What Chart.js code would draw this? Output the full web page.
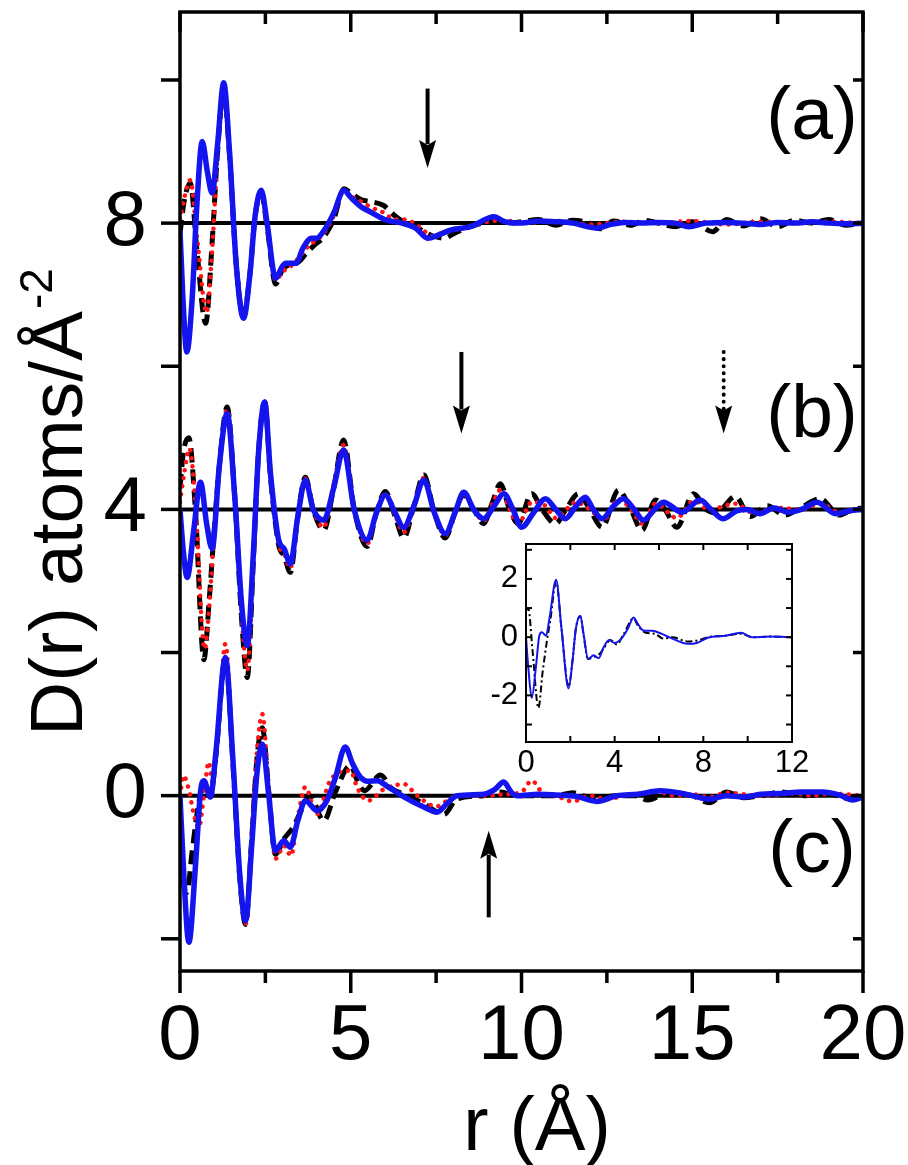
<!DOCTYPE html>
<html><head><meta charset="utf-8">
<script src="https://cdn.jsdelivr.net/npm/chart.js@4.4.1/dist/chart.umd.min.js"></script>
<style>
html,body{margin:0;padding:0;background:#fff;}
#wrap{position:relative;width:908px;height:1165px;}
#main{position:absolute;left:0;top:0;}
#inset{position:absolute;left:440px;top:520px;}
</style></head><body>
<div id="wrap"><canvas id="main" width="908" height="1165"></canvas><canvas id="inset" width="380" height="270"></canvas></div>
<script>
// ---------- DATA ----------
const xLabelVals = [0, 5, 10, 15, 20];
const xMinorVals = [2.5, 7.5, 12.5, 17.5];
const yLabelVals = [0, 4, 8];
const yTickVals = [-2, 0, 2, 4, 6, 8, 10];
const panelOffsets = [8, 4, 0];
const panelNames = ['(a)', '(b)', '(c)'];

// panel (a): values relative to offset 8
const aBlack = [[0,-0.15],[0.12,0.3],[0.3,0.56],[0.5,-0.4],[0.75,-1.4],[0.95,-0.2],[1.1,1.0],[1.28,1.85],[1.45,0.95],[1.65,-0.6],[1.86,-1.3],[2.05,-0.7],[2.2,0.1],[2.38,0.42],[2.55,-0.05],[2.8,-0.85],[3.0,-0.65],[3.2,-0.58],[3.45,-0.55],[3.7,-0.42],[3.95,-0.3],[4.2,-0.2],[4.5,0.05],[4.8,0.48],[5.0,0.42],[5.3,0.33],[5.6,0.3],[5.95,0.25],[6.3,0.1],[6.6,0.0],[7.0,-0.08],[7.4,-0.18],[7.75,-0.21],[8.0,-0.15],[8.5,-0.05],[9.0,0.02],[9.3,0.05],[9.7,0.0],[10,0.02],[10.5,0.05],[11,-0.03],[11.5,0.04],[12,0.0],[12.3,-0.08],[12.7,0.03],[13.2,-0.03],[13.6,0.04],[14,0.0],[14.5,-0.05],[15,0.02],[15.6,-0.12],[16,0.05],[16.5,-0.04],[17,0.06],[17.5,-0.05],[18,0.04],[18.5,0.0],[19,0.05],[19.5,-0.03],[20,0.0]];
const aRed = [[0,0.05],[0.15,0.4],[0.3,0.6],[0.5,-0.2],[0.78,-1.25],[0.95,-0.3],[1.1,0.95],[1.28,1.8],[1.45,0.95],[1.65,-0.55],[1.86,-1.28],[2.05,-0.68],[2.2,0.1],[2.38,0.42],[2.55,-0.02],[2.8,-0.8],[3.0,-0.68],[3.2,-0.62],[3.45,-0.5],[3.7,-0.35],[3.95,-0.25],[4.2,-0.15],[4.5,0.1],[4.8,0.45],[5.0,0.38],[5.3,0.3],[5.6,0.22],[5.95,0.15],[6.3,0.05],[6.6,0.05],[7.0,-0.05],[7.4,-0.18],[7.75,-0.12],[8.0,-0.1],[8.5,-0.04],[9.0,0.02],[9.5,0.04],[10,0.0],[11,0.03],[12,-0.02],[13,0.02],[14,0.0],[15,0.03],[16,-0.02],[17,0.02],[18,0.0],[19,0.02],[20,0.0]];
const aBlue = [[0,-0.1],[0.08,-1.0],[0.2,-1.8],[0.35,-1.1],[0.5,0.3],[0.65,1.14],[0.8,0.72],[0.94,0.42],[1.1,1.1],[1.28,1.96],[1.45,1.0],[1.65,-0.6],[1.86,-1.33],[2.05,-0.7],[2.2,0.1],[2.38,0.46],[2.55,0.0],[2.8,-0.77],[3.0,-0.6],[3.1,-0.56],[3.4,-0.56],[3.6,-0.35],[3.85,-0.21],[4.0,-0.21],[4.25,-0.08],[4.5,0.14],[4.8,0.46],[5.0,0.36],[5.3,0.23],[5.6,0.15],[6.0,0.05],[6.5,0.0],[6.9,-0.07],[7.25,-0.21],[7.55,-0.17],[7.9,-0.1],[8.5,-0.05],[9.2,0.09],[9.5,0.02],[10,0.0],[10.5,0.03],[11,0.02],[11.5,0.0],[12.2,-0.07],[12.6,-0.02],[13,0.01],[13.5,0.0],[14,0.01],[14.5,0.0],[14.9,-0.05],[15.4,0.0],[16,0.01],[16.5,0.0],[17,-0.02],[17.5,0.01],[18,0.0],[18.5,0.02],[19,0.0],[19.5,-0.01],[20,0.0]];

// panel (b): values relative to offset 4
const bBlack = [[0,0.3],[0.1,0.8],[0.26,1.0],[0.45,0.0],[0.7,-2.1],[0.85,-1.3],[1.0,-0.3],[1.15,0.6],[1.38,1.43],[1.6,0.2],[1.8,-1.5],[1.97,-2.35],[2.15,-0.7],[2.3,0.8],[2.48,1.5],[2.65,0.45],[2.89,-0.5],[3.05,-0.65],[3.23,-0.88],[3.45,-0.1],[3.67,0.45],[3.9,0.0],[4.21,-0.29],[4.5,0.3],[4.79,0.97],[5.1,0.0],[5.48,-0.52],[5.75,-0.05],[6.01,0.25],[6.3,-0.1],[6.55,-0.4],[6.85,0.05],[7.14,0.48],[7.45,-0.05],[7.77,-0.4],[8.05,-0.05],[8.3,0.2],[8.6,0.0],[8.89,-0.2],[9.15,0.1],[9.38,0.36],[9.65,0.0],[9.9,-0.2],[10.3,0.22],[10.6,0.0],[11.0,-0.2],[11.3,0.0],[11.67,0.22],[12.0,0.0],[12.36,-0.25],[12.84,0.27],[13.2,0.0],[13.53,-0.29],[13.92,0.13],[14.2,0.0],[14.55,-0.25],[15.04,0.22],[15.4,0.0],[15.7,-0.05],[16.26,0.18],[16.7,-0.1],[17.2,0.05],[17.7,-0.08],[18.2,0.03],[18.75,0.15],[19.3,-0.08],[19.7,0.0],[20,0.02]];
const bRed = [[0,0.1],[0.12,0.5],[0.28,0.85],[0.45,0.1],[0.72,-1.95],[0.88,-1.2],[1.0,-0.3],[1.15,0.6],[1.38,1.4],[1.6,0.2],[1.8,-1.45],[1.97,-2.25],[2.15,-0.7],[2.3,0.8],[2.48,1.48],[2.65,0.45],[2.89,-0.48],[3.05,-0.62],[3.23,-0.82],[3.45,-0.1],[3.67,0.43],[3.9,0.0],[4.21,-0.25],[4.5,0.35],[4.79,0.9],[5.1,0.0],[5.48,-0.48],[5.75,-0.05],[6.01,0.22],[6.3,-0.08],[6.55,-0.32],[6.85,0.05],[7.14,0.44],[7.45,-0.05],[7.77,-0.36],[8.05,-0.05],[8.3,0.22],[8.6,0.0],[8.89,-0.16],[9.15,0.08],[9.4,0.28],[9.65,0.0],[9.9,-0.2],[10.3,0.1],[10.7,0.05],[11.0,-0.12],[11.6,0.1],[12.0,0.0],[12.4,-0.15],[12.85,0.15],[13.2,0.0],[13.55,-0.2],[13.92,0.08],[14.55,-0.12],[15.04,0.12],[15.5,0.0],[16.26,0.08],[16.8,-0.05],[17.5,0.02],[18.2,0.0],[18.75,0.08],[19.3,-0.04],[20,0.0]];
const bBlue = [[0,0.0],[0.1,-0.6],[0.21,-0.95],[0.4,-0.3],[0.6,0.38],[0.78,-0.2],[0.94,-0.55],[1.15,0.6],[1.38,1.34],[1.6,0.2],[1.8,-1.3],[1.97,-1.9],[2.15,-0.6],[2.3,0.8],[2.48,1.5],[2.65,0.5],[2.89,-0.43],[3.05,-0.55],[3.23,-0.76],[3.45,-0.1],[3.67,0.41],[3.9,0.0],[4.21,-0.15],[4.5,0.3],[4.79,0.83],[5.1,0.0],[5.48,-0.43],[5.75,-0.05],[6.01,0.2],[6.3,-0.05],[6.55,-0.25],[6.85,0.05],[7.14,0.41],[7.45,-0.05],[7.77,-0.34],[8.05,-0.05],[8.31,0.24],[8.6,0.0],[8.89,-0.13],[9.2,0.05],[9.48,0.22],[9.75,0.0],[10.0,-0.25],[10.35,-0.05],[10.7,0.15],[11.0,0.0],[11.28,-0.13],[11.6,0.05],[11.87,0.17],[12.1,0.0],[12.36,-0.13],[12.7,0.05],[12.99,0.15],[13.3,0.0],[13.57,-0.15],[13.9,0.0],[14.16,0.1],[14.7,-0.04],[15.23,0.13],[15.55,0.0],[15.9,-0.13],[16.3,-0.02],[16.6,0.0],[16.97,-0.06],[17.4,0.02],[17.8,-0.04],[18.2,0.0],[18.65,0.1],[19.2,-0.06],[19.6,-0.02],[20,0.0]];

// panel (c): values relative to offset 0
const cBlack = [[0,-0.3],[0.06,-1.0],[0.21,-1.35],[0.35,-0.8],[0.55,-0.1],[0.7,0.15],[0.89,0.0],[1.05,0.55],[1.33,1.9],[1.55,0.45],[1.75,-1.15],[1.92,-1.8],[2.1,-0.6],[2.25,0.5],[2.41,0.95],[2.6,0.05],[2.79,-0.82],[3.05,-0.6],[3.3,-0.45],[3.5,-0.26],[3.8,0.0],[4.21,-0.35],[4.55,0.05],[4.99,0.42],[5.2,0.2],[5.4,0.07],[5.87,0.29],[6.2,0.1],[6.57,0.02],[7.1,-0.1],[7.73,-0.26],[8.1,-0.05],[8.9,0.0],[9.4,0.05],[9.8,0.0],[10.5,0.0],[11,0.0],[11.5,0.04],[12.2,-0.06],[12.7,0.0],[13.3,0.0],[13.7,-0.06],[14.3,0.04],[15,0.0],[15.5,-0.1],[16.0,0.05],[16.5,-0.03],[17,0.0],[17.6,0.05],[18.2,0.0],[19,0.02],[19.7,-0.05],[20,0.0]];
const cRed = [[0,0.0],[0.1,0.28],[0.25,0.1],[0.4,-0.25],[0.55,-0.45],[0.7,0.0],[0.84,0.47],[0.95,0.2],[1.1,0.8],[1.33,2.12],[1.55,0.5],[1.75,-1.1],[1.92,-1.8],[2.1,-0.5],[2.25,0.6],[2.41,1.14],[2.6,0.1],[2.8,-0.88],[3.05,-0.7],[3.25,-0.84],[3.45,-0.3],[3.67,0.12],[4.0,-0.26],[4.4,0.21],[4.99,0.35],[5.2,0.1],[5.5,-0.07],[6.0,0.1],[6.57,0.16],[6.9,0.02],[7.5,-0.15],[8.0,-0.02],[8.5,0.0],[9.0,0.0],[9.5,0.02],[10.0,0.05],[10.3,0.21],[10.6,0.05],[11.0,0.0],[11.5,-0.08],[12.0,0.0],[12.5,-0.05],[13.0,0.0],[13.5,0.03],[14.0,0.05],[14.5,0.0],[15.0,0.02],[15.5,-0.02],[16.0,0.04],[17.0,0.0],[18.0,0.03],[18.5,0.0],[19.0,0.03],[20,0.0]];
const cBlue = [[0,0.0],[0.1,-1.0],[0.26,-2.05],[0.45,-1.0],[0.6,0.05],[0.7,0.21],[0.89,-0.02],[1.05,0.6],[1.33,1.93],[1.55,0.5],[1.75,-1.1],[1.92,-1.75],[2.1,-0.7],[2.25,0.3],[2.41,0.72],[2.6,0.0],[2.79,-0.77],[3.04,-0.63],[3.23,-0.72],[3.45,-0.35],[3.67,-0.07],[4.02,-0.21],[4.3,-0.07],[4.55,0.25],[4.84,0.68],[5.05,0.45],[5.28,0.26],[5.5,0.2],[5.77,0.21],[6.1,0.12],[6.57,-0.02],[7.14,-0.16],[7.53,-0.23],[7.8,-0.12],[8.11,0.0],[8.9,0.02],[9.2,0.08],[9.48,0.19],[9.7,0.05],[9.86,0.0],[10.5,0.02],[11,0.01],[11.6,-0.01],[12.2,-0.08],[12.8,0.0],[13.4,0.02],[14.06,0.07],[14.6,0.04],[15.0,0.0],[15.5,-0.05],[16.0,0.0],[16.5,-0.02],[17.0,0.02],[17.6,0.03],[18.2,0.05],[18.8,0.05],[19.3,0.01],[19.7,-0.06],[20,-0.02]];

// inset
const insetXLabels = [0, 4, 8, 12];
const insetYLabels = [-2, 0, 2];
const insetBlue = [[0,0.0],[0.1,-1.0],[0.26,-2.09],[0.45,-1.0],[0.6,0.05],[0.71,0.17],[0.9,0.05],[1.05,0.6],[1.36,1.97],[1.6,0.3],[1.92,-1.76],[2.1,-0.8],[2.25,0.3],[2.45,0.74],[2.6,0.1],[2.8,-0.75],[3.05,-0.62],[3.28,-0.72],[3.5,-0.35],[3.75,-0.1],[4.0,-0.2],[4.3,-0.05],[4.6,0.3],[4.85,0.68],[5.05,0.45],[5.3,0.23],[5.7,0.22],[6.1,0.12],[6.6,-0.05],[7.3,-0.23],[7.7,-0.2],[8.2,-0.02],[9.0,0.05],[9.7,0.15],[10.2,0.0],[11,0.02],[12,0.0]];
const insetBlack = [[0,0.9],[0.1,1.0],[0.3,-0.5],[0.56,-2.43],[0.75,-1.2],[0.95,-0.1],[1.1,0.6],[1.36,1.9],[1.6,0.3],[1.92,-1.7],[2.1,-0.8],[2.25,0.3],[2.45,0.72],[2.6,0.05],[2.8,-0.75],[3.0,-0.7],[3.28,-0.6],[3.5,-0.4],[3.8,-0.1],[4.1,-0.25],[4.4,0.1],[4.85,0.65],[5.05,0.4],[5.4,0.15],[5.8,0.12],[6.2,-0.05],[6.6,0.0],[7.3,-0.15],[7.8,-0.1],[8.2,0.0],[9.0,0.05],[9.7,0.12],[10.2,0.0],[11,0.02],[12,0.0]];

// arrows (r position, tail value, tip value)
const arrows = [
  {r: 7.25, from: 9.88, to: 8.77, dotted: false},
  {r: 8.24, from: 6.2, to: 5.06, dotted: false},
  {r: 15.92, from: 6.2, to: 5.06, dotted: true},
  {r: 9.04, from: -1.70, to: -0.49, dotted: false}
];

// ---------- RENDER ----------
const FONT = "'Liberation Sans', Arial, Helvetica, sans-serif";
Chart.defaults.font.family = FONT;
Chart.defaults.color = '#000';

const BLUE = '#1414ee', RED = '#ff1414', BLACK = '#000000';
function pts(arr, off) { return arr.map(p => ({x: p[0], y: p[1] + off})); }

const panels = [[aBlack, aRed, aBlue], [bBlack, bRed, bBlue], [cBlack, cRed, cBlue]];
const datasets = [];
panels.forEach((pl, i) => {
  const off = panelOffsets[i];
  datasets.push({label: 'base' + i, data: [{x: 0, y: off}, {x: 20, y: off}], borderColor: BLACK, borderWidth: 4, order: 4});
  datasets.push({label: 'exp' + i, data: pts(pl[0], off), borderColor: BLACK, borderWidth: 5, borderDash: [14, 7], order: 3, cubicInterpolationMode: 'monotone'});
  datasets.push({label: 'model1-' + i, data: pts(pl[1], off), borderColor: RED, borderWidth: 4.5, borderDash: [0.1, 8], borderCapStyle: 'round', order: 2, cubicInterpolationMode: 'monotone'});
  datasets.push({label: 'model2-' + i, data: pts(pl[2], off), borderColor: BLUE, borderWidth: 5.5, order: 1, cubicInterpolationMode: 'monotone', borderJoinStyle: 'round'});
});

function line(ctx, x1, y1, x2, y2) { ctx.beginPath(); ctx.moveTo(x1, y1); ctx.lineTo(x2, y2); ctx.stroke(); }

function drawArrow(ctx, x, yTail, yTip, dotted) {
  const dir = yTip > yTail ? 1 : -1;
  const headL = 28, headW = 8.5;
  const yBase = yTip - dir * headL;
  ctx.save();
  ctx.strokeStyle = BLACK; ctx.fillStyle = BLACK;
  if (dotted) { ctx.lineWidth = 4; ctx.lineCap = 'round'; ctx.setLineDash([0.1, 7]); }
  else { ctx.lineWidth = 4; ctx.lineCap = 'butt'; ctx.setLineDash([]); }
  line(ctx, x, yTail, x, yBase + dir * 4);
  ctx.setLineDash([]);
  ctx.beginPath();
  ctx.moveTo(x, yTip); ctx.lineTo(x - headW, yBase); ctx.lineTo(x, yBase + dir * 5); ctx.lineTo(x + headW, yBase);
  ctx.closePath(); ctx.fill();
  ctx.restore();
}

const mainDecor = {
  id: 'mainDecor',
  beforeDraw(chart) {
    const ctx = chart.ctx; ctx.save(); ctx.fillStyle = '#fff'; ctx.fillRect(0, 0, chart.width, chart.height); ctx.restore();
  },
  afterDraw(chart) {
    const {ctx, chartArea: a, scales: {x, y}} = chart;
    ctx.save();
    ctx.strokeStyle = BLACK; ctx.lineWidth = 3.5; ctx.lineCap = 'butt';
    ctx.strokeRect(a.left, a.top, a.right - a.left, a.bottom - a.top);
    xLabelVals.forEach(v => { const p = x.getPixelForValue(v); line(ctx, p, a.bottom, p, a.bottom + 22); line(ctx, p, a.top, p, a.top + 20); });
    xMinorVals.forEach(v => { const p = x.getPixelForValue(v); line(ctx, p, a.bottom, p, a.bottom + 12); line(ctx, p, a.top, p, a.top + 12); });
    yTickVals.forEach(v => { const p = y.getPixelForValue(v); line(ctx, a.left - 19, p, a.left, p); line(ctx, a.right - 10, p, a.right, p); });
    arrows.forEach(ar => drawArrow(ctx, x.getPixelForValue(ar.r), y.getPixelForValue(ar.from), y.getPixelForValue(ar.to), ar.dotted));
    // panel labels
    ctx.fillStyle = BLACK; ctx.font = '75px ' + FONT; ctx.textAlign = 'center'; ctx.textBaseline = 'alphabetic';
    const labelBase = [139, 437, 872];
    panelNames.forEach((t, i) => ctx.fillText(t, 812, labelBase[i]));
    // x title
    ctx.font = '76px ' + FONT; ctx.textAlign = 'center';
    ctx.fillText('r (Å)', 537, 1150);
    // y title with superscript
    ctx.translate(82, 736); ctx.rotate(-Math.PI / 2);
    ctx.textAlign = 'left'; ctx.font = '75px ' + FONT;
    const main = 'D(r) atoms/Å';
    ctx.fillText(main, 0, 0);
    const w = ctx.measureText(main).width;
    ctx.font = '46px ' + FONT;
    ctx.fillText('-2', w + 2, -30);
    ctx.restore();
  }
};

new Chart(document.getElementById('main'), {
  type: 'line',
  data: {datasets},
  options: {
    responsive: false, animation: false, devicePixelRatio: 1,
    layout: {padding: {top: 12, right: 45, left: 0, bottom: 0}},
    elements: {point: {radius: 0}, line: {tension: 0}},
    plugins: {legend: {display: false}, tooltip: {enabled: false}},
    scales: {
      x: {type: 'linear', min: 0, max: 20, position: 'bottom',
        grid: {display: false, drawTicks: false}, border: {display: false},
        ticks: {font: {size: 78}, padding: 20, maxRotation: 0, autoSkip: false, color: BLACK},
        afterBuildTicks: s => { s.ticks = xLabelVals.map(v => ({value: v})); },
        afterFit: s => { s.height = 194; s.paddingLeft = 0; s.paddingRight = 0; s.paddingTop = 0; s.paddingBottom = 0; }
      },
      y: {type: 'linear', min: -2.45, max: 10.95, position: 'left',
        grid: {display: false, drawTicks: false}, border: {display: false},
        ticks: {font: {size: 78}, padding: 33, autoSkip: false, color: BLACK},
        afterBuildTicks: s => { s.ticks = yLabelVals.map(v => ({value: v})); },
        afterFit: s => { s.width = 180; s.paddingLeft = 0; s.paddingRight = 0; s.paddingTop = 0; s.paddingBottom = 0; }
      }
    }
  },
  plugins: [mainDecor]
});

// ---------- INSET ----------
const insetDecor = {
  id: 'insetDecor',
  afterDraw(chart) {
    const {ctx, chartArea: a, scales: {x, y}} = chart;
    ctx.save(); ctx.strokeStyle = BLACK; ctx.lineWidth = 2;
    ctx.strokeRect(a.left, a.top, a.right - a.left, a.bottom - a.top);
    [0, 2, 4, 6, 8, 10, 12].forEach(v => { const p = x.getPixelForValue(v); line(ctx, p, a.bottom, p, a.bottom - 6); line(ctx, p, a.top, p, a.top + 6); });
    [-3, -2, -1, 0, 1, 2, 3].forEach(v => { const p = y.getPixelForValue(v); line(ctx, a.left, p, a.left + 6, p); line(ctx, a.right, p, a.right - 6, p); });
    ctx.restore();
  }
};
new Chart(document.getElementById('inset'), {
  type: 'line',
  data: {datasets: [
    {label: 'inset-model', data: pts(insetBlue, 0), borderColor: BLUE, borderWidth: 2, order: 1, cubicInterpolationMode: 'monotone'},
    {label: 'inset-exp', data: pts(insetBlack, 0), borderColor: BLACK, borderWidth: 2, borderDash: [7, 3, 2, 3], order: 2, cubicInterpolationMode: 'monotone'}
  ]},
  options: {
    responsive: false, animation: false, devicePixelRatio: 1,
    layout: {padding: {top: 24, right: 28, left: 0, bottom: 0}},
    elements: {point: {radius: 0}},
    plugins: {legend: {display: false}, tooltip: {enabled: false}},
    scales: {
      x: {type: 'linear', min: 0, max: 12, grid: {display: false, drawTicks: false}, border: {display: false},
        ticks: {font: {size: 31}, padding: 3, maxRotation: 0, autoSkip: false, color: BLACK},
        afterBuildTicks: s => { s.ticks = insetXLabels.map(v => ({value: v})); },
        afterFit: s => { s.height = 48; s.paddingLeft = 0; s.paddingRight = 0; s.paddingTop = 0; s.paddingBottom = 0; }
      },
      y: {type: 'linear', min: -3.6, max: 3.2, grid: {display: false, drawTicks: false}, border: {display: false},
        ticks: {font: {size: 31}, padding: 8, autoSkip: false, color: BLACK},
        afterBuildTicks: s => { s.ticks = insetYLabels.map(v => ({value: v})); },
        afterFit: s => { s.width = 86; s.paddingLeft = 0; s.paddingRight = 0; s.paddingTop = 0; s.paddingBottom = 0; }
      }
    }
  },
  plugins: [insetDecor]
});
</script>
</body></html>
